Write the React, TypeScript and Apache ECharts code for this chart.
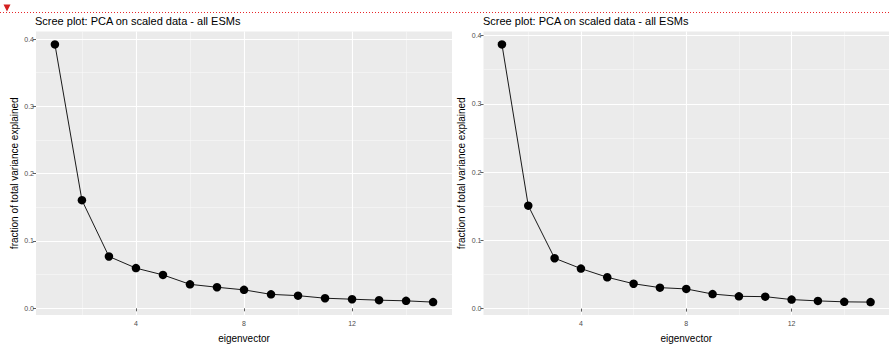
import React, { useEffect, useRef } from "react";
import * as echarts from "echarts";

const eigenvectors = [1, 2, 3, 4, 5, 6, 7, 8, 9, 10, 11, 12, 13, 14, 15];
const leftValues = [0.392, 0.1606, 0.077, 0.0597, 0.0496, 0.0356, 0.0313, 0.0274, 0.0207, 0.0188, 0.015, 0.0135, 0.0121, 0.0111, 0.0092];
const rightValues = [0.387, 0.1508, 0.0738, 0.0586, 0.0459, 0.0364, 0.0307, 0.0288, 0.0213, 0.018, 0.0175, 0.0132, 0.0113, 0.0099, 0.0095];
const xMajorTicks = [4, 8, 12];
const xMinorTicks = [2, 6, 10, 14];
const yMajorTicks = [0, 0.1, 0.2, 0.3, 0.4];
const yMinorTicks = [0.05, 0.15, 0.25, 0.35];
const titleText = "Scree plot: PCA on scaled data - all ESMs";
const xTitle = "eigenvector";
const yTitle = "fraction of total variance explained";

const FONT = "Liberation Sans, Arial, sans-serif";

function expand(vals: number[]) {
  const mn = Math.min(...vals);
  const mx = Math.max(...vals);
  const r = mx - mn;
  return [mn - r * 0.05, mx + r * 0.05];
}

export default function App() {
  const ref = useRef<HTMLDivElement>(null);
  useEffect(() => {
    if (!ref.current) return;
    const chart = echarts.init(ref.current, null, { renderer: "svg" });
    const panels = [
      { left: 36, width: 416, values: leftValues, titleLeft: 35, nameGap: 17 },
      { left: 483.5, width: 405.5, values: rightValues, titleLeft: 483, nameGap: 17 },
    ];
    const xr = expand(eigenvectors);
    const grids: any[] = [];
    const xAxes: any[] = [];
    const yAxes: any[] = [];
    const series: any[] = [];
    const titles: any[] = [];
    panels.forEach((p, i) => {
      const yr = expand(p.values);
      grids.push({
        left: p.left,
        top: 31.5,
        width: p.width,
        height: 291.5,
        show: true,
        backgroundColor: "#EBEBEB",
        borderWidth: 0,
      });
      titles.push({
        text: titleText,
        left: p.titleLeft,
        top: 15,
        padding: 0,
        textStyle: { fontFamily: FONT, fontSize: 11, fontWeight: "normal", color: "#000" },
      });
      xAxes.push({
        type: "value",
        gridIndex: i,
        min: xr[0],
        max: xr[1],
        name: xTitle,
        nameLocation: "middle",
        nameGap: 18,
        nameTextStyle: { fontFamily: FONT, fontSize: 10, color: "#000" },
        axisLine: { show: false },
        axisTick: { show: true, length: 3, customValues: xMajorTicks, lineStyle: { color: "#333", width: 0.8 } },
        axisLabel: { customValues: xMajorTicks, fontFamily: FONT, fontSize: 7, color: "#4D4D4D", margin: 5 },
        splitLine: { show: true, lineStyle: { color: "#FFFFFF", width: 1.1 } },
        z: 1,
      });
      xAxes.push({
        type: "value",
        gridIndex: i,
        min: xr[0],
        max: xr[1],
        axisLine: { show: false },
        axisTick: { show: false, customValues: xMinorTicks },
        axisLabel: { show: false, customValues: xMinorTicks },
        splitLine: { show: true, lineStyle: { color: "#FAFAFA", width: 0.55 } },
        z: 0,
      });
      yAxes.push({
        type: "value",
        gridIndex: i,
        min: yr[0],
        max: yr[1],
        name: yTitle,
        nameLocation: "middle",
        nameGap: p.nameGap,
        nameRotate: 90,
        nameTextStyle: { fontFamily: FONT, fontSize: 10, color: "#000" },
        axisLine: { show: false },
        axisTick: { show: true, length: 3, customValues: yMajorTicks, lineStyle: { color: "#333", width: 0.8 } },
        axisLabel: {
          customValues: yMajorTicks,
          fontFamily: FONT,
          fontSize: 7,
          color: "#4D4D4D",
          margin: 2,
          formatter: (v: number) => v.toFixed(1),
        },
        splitLine: { show: true, lineStyle: { color: "#FFFFFF", width: 1.1 } },
        z: 1,
      });
      yAxes.push({
        type: "value",
        gridIndex: i,
        min: yr[0],
        max: yr[1],
        axisLine: { show: false },
        axisTick: { show: false, customValues: yMinorTicks },
        axisLabel: { show: false, customValues: yMinorTicks },
        splitLine: { show: true, lineStyle: { color: "#FAFAFA", width: 0.55 } },
        z: 0,
      });
      series.push({
        type: "line",
        xAxisIndex: i * 2,
        yAxisIndex: i * 2,
        data: eigenvectors.map((e, k) => [e, p.values[k]]),
        symbol: "circle",
        symbolSize: 8.5,
        showSymbol: true,
        itemStyle: { color: "#000" },
        lineStyle: { color: "#000", width: 0.9 },
        z: 5,
      });
    });
    chart.setOption({
      animation: false,
      title: titles,
      grid: grids,
      xAxis: xAxes,
      yAxis: yAxes,
      series,
      graphic: [
        {
          type: "line",
          shape: { x1: 0, y1: 12.5, x2: 889, y2: 12.5 },
          style: { stroke: "#E8262A", lineWidth: 1, lineDash: [1, 2] },
          silent: true,
        },
        {
          type: "polygon",
          shape: { points: [[3.5, 4.5], [10.5, 4.5], [7, 11.5]] },
          style: { fill: "#D42020" },
          silent: true,
        },
      ],
    });
    return () => chart.dispose();
  }, []);
  return (
    <div
      ref={ref}
      style={{ position: "fixed", left: 0, top: 0, width: 889, height: 348, background: "#fff" }}
    />
  );
}
